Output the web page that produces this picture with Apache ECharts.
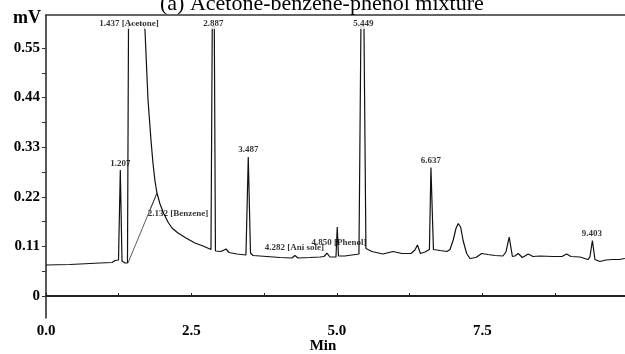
<!DOCTYPE html>
<html><head><meta charset="utf-8">
<script src="https://cdn.jsdelivr.net/npm/echarts@6/dist/echarts.min.js"></script>
<style>html,body{margin:0;padding:0;background:#fff}#c{width:625px;height:354px}</style>
</head><body><div id="c"></div>
<script>
// Chromatogram trace (x in axis minutes, y in mV)
const timeMin = [0.000,0.412,0.928,1.134,1.186,1.220,1.246,1.277,1.306,1.357,1.400,1.418,1.675,1.701,1.753,1.804,1.838,1.873,1.907,1.959,2.027,2.096,2.165,2.268,2.405,2.560,2.698,2.835,2.857,2.892,2.912,3.007,3.093,3.144,3.282,3.436,3.476,3.514,3.557,3.797,4.021,4.227,4.278,4.330,4.536,4.708,4.777,4.828,4.880,4.983,5.005,5.026,5.137,5.258,5.378,5.412,5.464,5.498,5.601,5.790,5.962,6.117,6.271,6.340,6.383,6.435,6.512,6.589,6.615,6.658,6.770,6.890,6.942,6.998,7.045,7.084,7.125,7.170,7.229,7.285,7.388,7.486,7.595,7.715,7.852,7.904,7.960,8.015,8.058,8.115,8.187,8.287,8.368,8.488,8.711,8.866,8.947,9.021,9.175,9.313,9.347,9.390,9.433,9.519,9.622,9.742,9.845,9.948];
const signal = [0.0687,0.0698,0.0732,0.0743,0.0787,0.0754,0.0798,0.2794,0.0776,0.0732,0.0732,0.603,0.603,0.590,0.4346,0.3459,0.2949,0.2550,0.2284,0.2040,0.1818,0.1641,0.1508,0.1397,0.1286,0.1175,0.1109,0.1031,0.5987,0.5987,0.0998,0.0987,0.1042,0.0965,0.0931,0.0909,0.3082,0.0953,0.0898,0.0876,0.0854,0.0843,0.0898,0.0843,0.0854,0.0865,0.0876,0.0953,0.0865,0.0865,0.1530,0.0887,0.0887,0.0909,0.0931,0.5987,0.5987,0.1053,0.0987,0.0931,0.0987,0.0942,0.0942,0.1020,0.1131,0.0942,0.0976,0.1031,0.2849,0.1031,0.1009,0.0987,0.1031,0.1242,0.1497,0.1608,0.1530,0.1220,0.0942,0.0831,0.0854,0.0942,0.0920,0.0898,0.0887,0.0976,0.1308,0.0876,0.0887,0.0942,0.0854,0.0931,0.0876,0.0887,0.0876,0.0876,0.0931,0.0876,0.0865,0.0809,0.0865,0.1231,0.0809,0.0765,0.0798,0.0809,0.0809,0.0831];

// Integration / leader lines near the benzene shoulder
const benzeneLineX = [1.409, 1.907, 1.787];
const benzeneLineY = [0.0732, 0.2284, 0.1907];

// Peak annotations
const peakLabels = ['1.437 [Acetone]','2.887','5.449','1.207','3.487','2.132 [Benzene]','4.282 [Ani sole]','4.850 [Phenol]','6.637','9.403'];
const peakLabelX = [1.426,2.878,5.455,1.280,3.479,2.268,4.270,5.034,6.615,9.381];
const peakLabelY = [0.6042,0.6042,0.6042,0.2938,0.3248,0.1818,0.1064,0.1175,0.2993,0.1390];

// Axis ticks
const xTickValues = [0,1.25,2.5,3.75,5,6.25,7.5,8.75];
const xLabelValues = [0,2.5,5,7.5];
const yTickValues = [0,0.055,0.11,0.165,0.22,0.275,0.33,0.385,0.44,0.495,0.55];
const yLabelValues = [0,0.11,0.22,0.33,0.44,0.55];

const titleText = '(a) Acetone-benzene-phenol mixture';
const serif = '"Liberation Serif", "Times New Roman", serif';

const chart = echarts.init(document.getElementById('c'), null, {renderer:'canvas'});
const trace = timeMin.map((t,i)=>[t, signal[i]]);
const bz = benzeneLineX.map((t,i)=>[t, benzeneLineY[i]]);
const labelData = peakLabels.map((s,i)=>({
  value:[peakLabelX[i], peakLabelY[i]], name:s,
  label: peakLabelY[i] > 0.5 ? {backgroundColor:'#fff', padding:[1,1,1,1]} : {}
}));

chart.setOption({
  animation:false,
  backgroundColor:'#fff',
  title:{text:titleText, left:155, top:-12, textStyle:{fontFamily:serif, fontSize:22, fontWeight:'normal', color:'#000'}},
  graphic:[{type:'text', left:13, top:9.5, style:{text:'mV', font:'bold 18px "Liberation Serif"', fill:'#000'}}],
  grid:{left:46, right:0, top:15, bottom:36, containLabel:false, outerBoundsMode:'none'},
  xAxis:[{
    type:'value', min:0, max:9.95, position:'bottom',
    axisLine:{show:true, lineStyle:{color:'#222', width:2}},
    axisTick:{show:true, inside:true, length:3, customValues:xTickValues, lineStyle:{color:'#222', width:1}},
    axisLabel:{customValues:xLabelValues, formatter:v=>Number(v).toFixed(1), fontFamily:serif, fontWeight:'bold', fontSize:15, color:'#000', margin:6},
    splitLine:{show:false},
    name:'Min', nameLocation:'middle', nameGap:21, nameMoveOverlap:false,
    nameTextStyle:{fontFamily:serif, fontWeight:'bold', fontSize:15, color:'#000', padding:[0,25,0,0]}
  },{
    type:'value', min:0, max:9.95, position:'top',
    axisLine:{show:true, lineStyle:{color:'#333', width:1.5}},
    axisTick:{show:false}, axisLabel:{show:false}, splitLine:{show:false}
  }],
  yAxis:{
    type:'value', min:-0.0488, max:0.6232,
    axisLine:{show:true, lineStyle:{color:'#222', width:1.5}},
    axisTick:{show:true, length:4, customValues:yTickValues, lineStyle:{color:'#333', width:1}},
    axisLabel:{customValues:yLabelValues, formatter:v=> v===0 ? '0' : Number(v).toFixed(2), fontFamily:serif, fontWeight:'bold', fontSize:15, color:'#000', margin:6},
    splitLine:{show:false}
  },
  series:[
    {type:'line', data:trace, showSymbol:false, symbol:'none', lineStyle:{color:'#111', width:1.2}, z:2},
    {type:'line', data:bz, showSymbol:false, symbol:'none', lineStyle:{color:'#333', width:0.8}, z:2},
    {type:'scatter', data:labelData, symbolSize:0, z:5,
     label:{show:true, position:'inside', formatter:p=>p.name, fontFamily:serif, fontWeight:'bold', fontSize:9, color:'#000'}}
  ]
});
</script></body></html>
